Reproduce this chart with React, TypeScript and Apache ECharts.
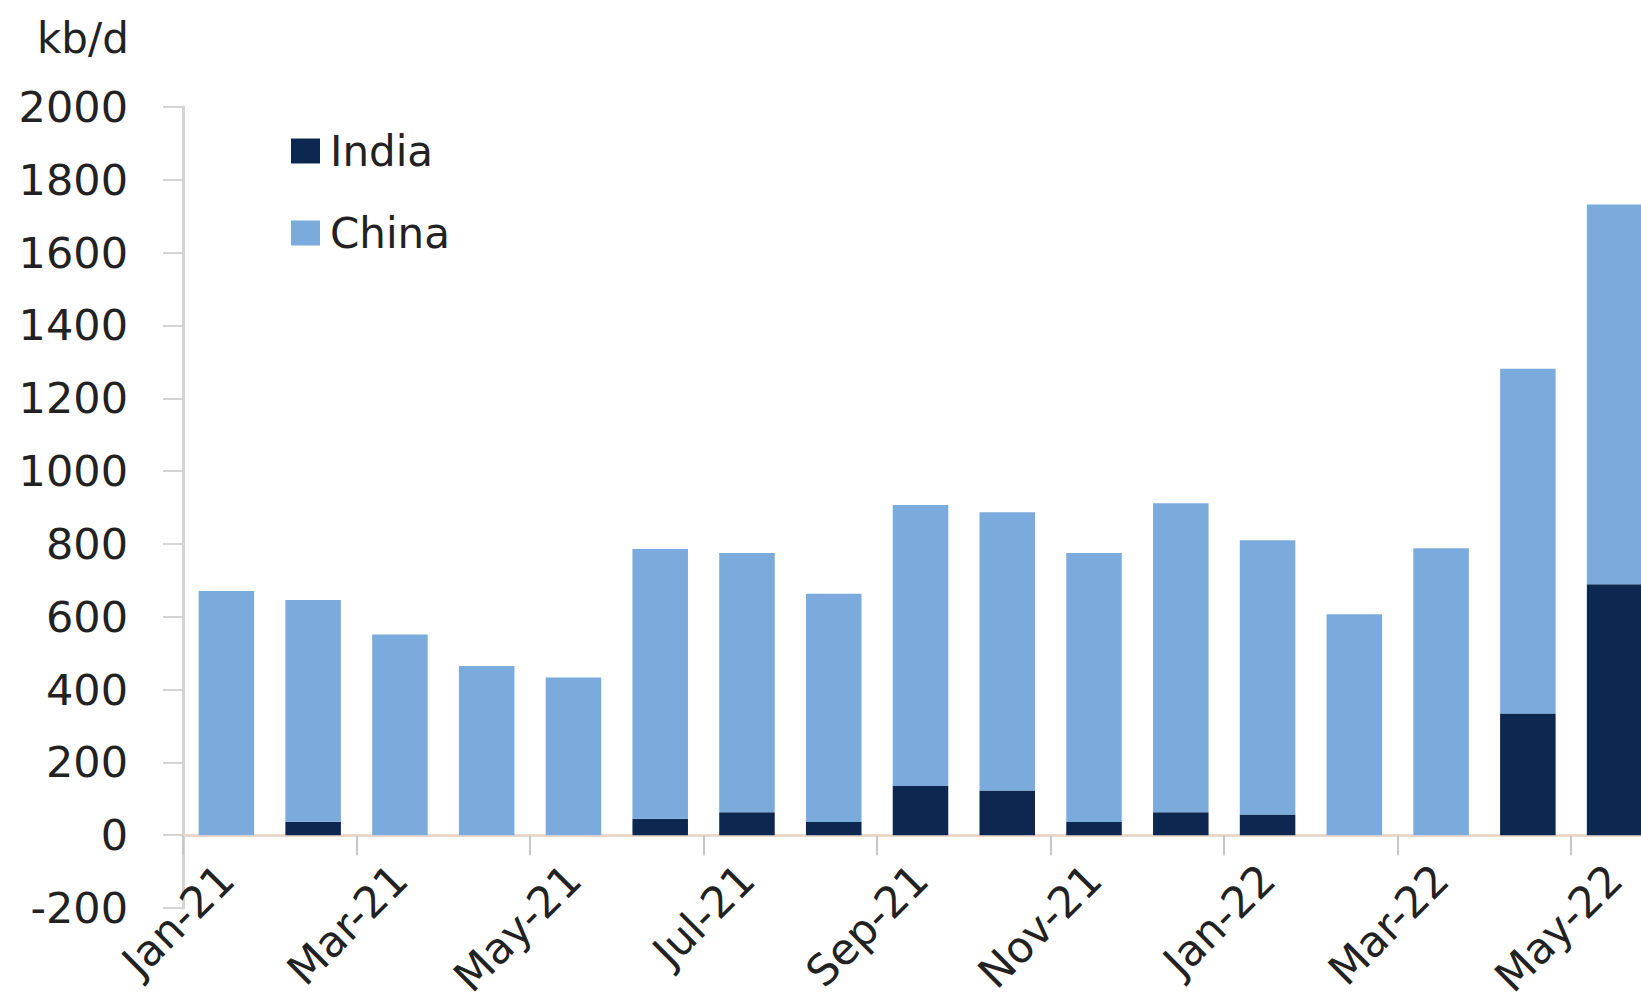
import React, { useEffect, useRef } from "react";
import * as echarts from "echarts";

const categories = [
  "Jan-21", "Feb-21", "Mar-21", "Apr-21", "May-21", "Jun-21", "Jul-21", "Aug-21", "Sep-21",
  "Oct-21", "Nov-21", "Dec-21", "Jan-22", "Feb-22", "Mar-22", "Apr-22", "May-22",
];
const india = [0, 37, 0, 0, 0, 45, 63, 36, 135, 123, 36, 63, 57, 0, 0, 334, 689];
const china = [671, 609, 551, 465, 433, 741, 712, 627, 772, 764, 739, 849, 753, 607, 788, 947, 1043];
const unitLabel = "kb/d";
const yMin = -200;
const yMax = 2000;
const yStep = 200;

const FONT = "DejaVu Sans";

export default function App() {
  const ref = useRef<HTMLDivElement>(null);
  useEffect(() => {
    if (!ref.current) return;
    const chart = echarts.init(ref.current, undefined, { renderer: "svg" });
    chart.setOption({
      animation: false,
      backgroundColor: "#ffffff",
      textStyle: { fontFamily: FONT },
      graphic: [
        {
          type: "text",
          left: 37,
          top: 17,
          style: { text: unitLabel, fontFamily: FONT, fontSize: 42, fill: "#222" },
        },
      ],
      legend: {
        data: ["India", "China"],
        orient: "vertical",
        left: 286,
        top: 125,
        itemWidth: 29,
        itemHeight: 25,
        itemGap: 40,
        icon: "rect",
        textStyle: { fontFamily: FONT, fontSize: 42, color: "#222", padding: [0, 0, 0, 5] },
      },
      grid: {
        left: 183,
        top: 107,
        width: 1475,
        height: 801,
        outerBoundsMode: "none",
      },
      xAxis: {
        type: "category",
        data: categories,
        axisLine: { onZero: true, lineStyle: { color: "#ead8cc", width: 3 } },
        axisTick: {
          show: true,
          interval: 1,
          alignWithLabel: false,
          length: 20,
          lineStyle: { color: "#c8c8c8", width: 2 },
        },
        axisLabel: {
          interval: 1,
          rotate: 45,
          margin: -36,
          fontFamily: FONT,
          fontSize: 43,
          color: "#222",
        },
      },
      yAxis: {
        type: "value",
        min: yMin,
        max: yMax,
        interval: yStep,
        splitLine: { show: false },
        axisLine: { show: true, lineStyle: { color: "#d4d4d4", width: 3 } },
        axisTick: { show: true, length: 20, lineStyle: { color: "#d4d4d4", width: 2 } },
        axisLabel: {
          margin: 55,
          fontFamily: FONT,
          fontSize: 43,
          color: "#222",
          formatter: (v: number) => String(v),
        },
      },
      series: [
        {
          name: "India",
          type: "bar",
          stack: "total",
          data: india,
          barWidth: "64%",
          itemStyle: { color: "#0d2850" },
        },
        {
          name: "China",
          type: "bar",
          stack: "total",
          data: china,
          barWidth: "64%",
          itemStyle: { color: "#7babdc" },
        },
      ],
    });
    return () => chart.dispose();
  }, []);
  return (
    <div
      ref={ref}
      style={{ position: "fixed", left: 0, top: 0, width: 1641, height: 1001 }}
    />
  );
}
